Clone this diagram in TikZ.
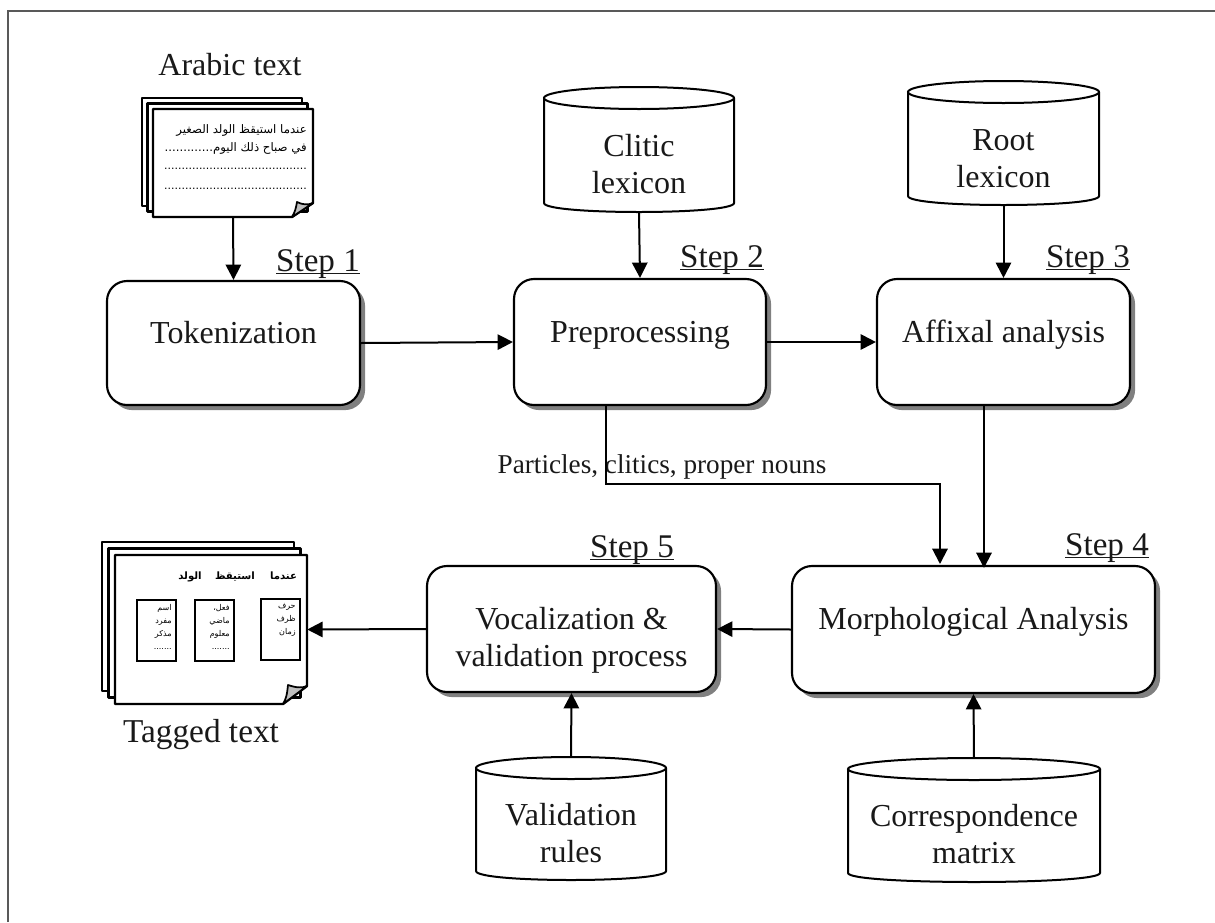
\documentclass[tikz,border=0pt]{standalone}
\usepackage{fontspec}
\setmainfont{Liberation Serif}
\newfontfamily\arabicfont[Script=Arabic]{DejaVu Sans}
\TeXXeTstate=1
\usetikzlibrary{arrows.meta,shadows}
\newcommand\ctext[2]{\raisebox{#1}[0pt][0pt]{\begin{tabular}[t]{@{}c@{}}#2\end{tabular}}}
\newcommand\ulstep[1]{\setbox0\hbox{#1}\rlap{\rule[-2.6pt]{\wd0}{1.4pt}}\box0}
\newcommand\rl[1]{\beginR #1\endR}
\newcommand\tagtext[1]{\parbox[c][45.5pt][t]{23pt}{\raggedleft\vspace*{3pt}#1}}
\tikzset{
  x=0.75pt,y=-0.75pt,
  lbl/.style={font=\fontsize{24}{27.75}\selectfont,text=black!90},
  box/.style={lbl,draw,fill=white,line width=1.6pt,rounded corners=15pt,inner sep=0pt,
    drop shadow={opacity=1,fill=black!50,shadow xshift=3.8pt,shadow yshift=-3.8pt}},
  cylbody/.style={draw,fill=white,line width=1.5pt},
  cylnode/.style={lbl,inner sep=0pt},
  steplabel/.style={lbl,anchor=base,inner sep=0pt,font=\fontsize{24.8}{27.75}\selectfont},
  edge/.style={line width=1.5pt,-{Triangle[length=11.5pt,width=11.5pt]}},
  sheet/.style={draw,fill=white,line width=1.8pt,line join=round},
  docnode/.style={inner sep=0pt},
  ar/.style={font=\arabicfont\fontsize{8.8}{12}\selectfont,inner sep=0pt},
  ardots/.style={font=\arabicfont\fontsize{8.2}{12}\selectfont,inner sep=0pt},
  arhead/.style={font=\arabicfont\bfseries\fontsize{7.6}{10}\selectfont,inner sep=0pt},
  tagbox/.style={draw,line width=1.5pt,inner xsep=3pt,inner ysep=0pt,font=\arabicfont\fontsize{6}{9.75}\selectfont},
}
\newcommand\cyl[7]{% name,x1,y1,x2,y2,dy,text
  \draw[cylbody] (#2,#3+11) -- (#2,#5-9) .. controls (#2,#5+3) and (#4,#5+3) .. (#4,#5-9) -- (#4,#3+11);
  \draw[cylbody] ({(#2+#4)/2},#3+11) ellipse [x radius={(#4-#2)/2},y radius=11];
  \node[cylnode,minimum width={(#4-#2)*0.75pt},minimum height={(#5-#3)*0.75pt}] (#1) at ({(#2+#4)/2},{(#3+#5)/2}) {\ctext{#6}{#7}};
}
\newcommand\docstack[7]{% x1,y1,x2,y2 of the top sheet, offset, fold x, fold y
  \draw[sheet] (#1-2*#5,#2-2*#5) rectangle (#3-2*#5,#4-2*#5);
  \draw[sheet] (#1-#5,#2-#5) rectangle (#3-#5,#4-#5);
  \draw[sheet] (#1,#2) -- (#3,#2) -- (#3,#4-#7) -- (#3-#6,#4) -- (#1,#4) -- cycle;
  \draw[line width=1.3pt,line join=round,fill=black!25] (#3-#6,#4) .. controls (#3-#6+3,#4-5) and (#3-#6+4,#4-9) .. (#3-#6+5,#4-#7-1) .. controls (#3-10,#4-#7+2) and (#3-5,#4-#7+2) .. (#3,#4-#7) -- cycle;
}
\begin{document}
\begin{tikzpicture}
\useasboundingbox (0,0) rectangle (1215,922);
\draw[black!65,line width=1.6pt] (8,922) -- (8,11) -- (1215,11);

% top document stack
\docstack{153}{109}{313}{217}{5.5}{21}{14}
\node[docnode,minimum width=120pt,minimum height=81pt] (arabic) at (233,163) {};
\node[ar,anchor=base east] (al1) at (307,133) {\rl{عندما استيقظ الولد الصغير}};
\node[ar,anchor=base east] (al2) at (307,151) {\rl{في صباح ذلك اليوم.............}};
\node[ardots,anchor=base east] (al3) at (307,169) {.........................................};
\node[ardots,anchor=base east] (al4) at (307,189) {.........................................};
\node[lbl,anchor=base] (arabiclabel) at (230,75) {Arabic text};

% tagged document stack
\docstack{115}{555}{307}{704}{6.5}{24}{18}
\node[docnode,minimum width=144pt,minimum height=111.75pt] (tagged) at (211,629.5) {};
\node[arhead,anchor=base] (h1) at (283.5,579) {\rl{عندما}};
\node[arhead,anchor=base] (h2) at (235,579) {\rl{استيقظ}};
\node[arhead,anchor=base] (h3) at (190,579) {\rl{الولد}};
\node[tagbox,anchor=north west] (tb1) at (260,598) {\tagtext{\rl{حرف}\\\rl{ظرف}\\\rl{زمان}}};
\node[tagbox,anchor=north west] (tb2) at (194,599) {\tagtext{\rl{فعل،}\\\rl{ماضي}\\\rl{معلوم}\\.......}};
\node[tagbox,anchor=north west] (tb3) at (136,599) {\tagtext{\rl{اسم}\\\rl{مفرد}\\\rl{مذكر}\\.......}};
\node[lbl,anchor=base,font=\fontsize{25}{27.75}\selectfont] (taggedlabel) at (201,742) {Tagged text};

% cylinders
\cyl{clitic}{544}{87}{734}{212}{-5.6pt}{Clitic\\lexicon}
\cyl{root}{908}{81}{1099}{205}{-5.25pt}{Root\\lexicon}
\cyl{valid}{476}{757}{666}{880}{-5.6pt}{Validation\\rules}
\cyl{corresp}{848}{758}{1100}{882}{-4.5pt}{Correspondence\\matrix}

% process boxes
\node[box,minimum width=189.75pt,minimum height=93pt] (token) at (233.5,343) {\ctext{0pt}{Tokenization}};
\node[box,minimum width=189pt,minimum height=94.5pt] (prep) at (640,342) {\ctext{0pt}{Preprocessing}};
\node[box,minimum width=189.75pt,minimum height=94.5pt] (affix) at (1003.5,342) {\ctext{0pt}{Affixal analysis}};
\node[box,minimum width=272.25pt,minimum height=95.25pt] (morph) at (973.5,629.5) {\ctext{0pt}{Morphological Analysis}};
\node[box,minimum width=216.75pt,minimum height=94.5pt] (voc) at (571.5,629) {\ctext{0pt}{Vocalization \&\\validation process}};

% step labels
\node[steplabel] (s1) at (318,271) {\ulstep{Step 1}};
\node[steplabel] (s2) at (722,267) {\ulstep{Step 2}};
\node[steplabel] (s3) at (1088,267) {\ulstep{Step 3}};
\node[steplabel] (s4) at (1107,555) {\ulstep{Step 4}};
\node[steplabel] (s5) at (632,557) {\ulstep{Step 5}};

% free ends of off-centre connectors
\coordinate (pa) at (606,404);
\coordinate (pb) at (940,484);
\coordinate (pc) at (940,564);
\coordinate (aa) at (984,404);
\coordinate (ab) at (984,568);

\node[lbl,anchor=base,inner sep=0pt,font=\fontsize{20.4}{24}\selectfont] (particles) at (662,473) {Particles, clitics, proper nouns};

% connectors
\draw[edge] (arabic.south) -- (token.north);
\draw[edge] (token.east) -- (prep.west);
\draw[edge] (prep.east) -- (affix.west);
\draw[edge] (clitic.south) -- (prep.north);
\draw[edge] (root.south) -- (affix.north);
\draw[edge] (pa) |- (pb) -- (pc);
\draw[edge] (aa) -- (ab);
\draw[edge] (morph.west) -- (voc.east);
\draw[edge] (voc.west) -- (tagged.east);
\draw[edge] (valid.north) -- (voc.south);
\draw[edge] (corresp.north) -- (morph.south);
\end{tikzpicture}
\end{document}
